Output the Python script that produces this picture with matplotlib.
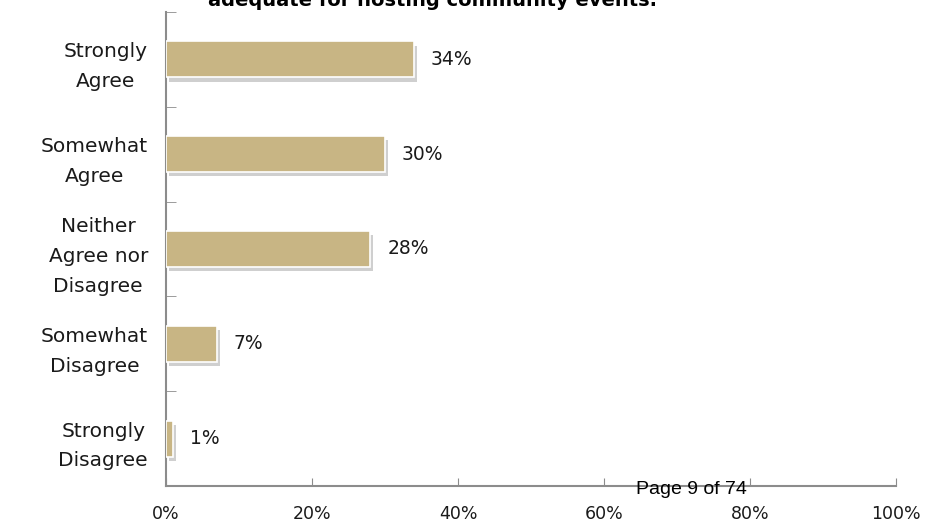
import matplotlib
matplotlib.use("Agg")
import matplotlib.pyplot as plt
import matplotlib.patheffects as pe

categories = ["Strongly\nAgree", "Somewhat\nAgree", "Neither\nAgree nor\nDisagree",
              "Somewhat\nDisagree", "Strongly\nDisagree"]
values = [34, 30, 28, 7, 1]
xticks = [0, 20, 40, 60, 80, 100]
xtick_labels = ["0%", "20%", "40%", "60%", "80%", "100%"]
title = "adequate for hosting community events."
footer = "Page 9 of 74"

font = ["DejaVu Sans"]
bar_color = "#C8B584"
axis_color = "#8C8C8C"

fig = plt.figure(figsize=(9.25, 5.23), dpi=100)
ax = fig.add_axes([166 / 925, 1 - 486 / 523, 730 / 925, 474 / 523])

n = len(categories)
ypos = list(range(n))
bars = ax.barh(ypos, values, height=0.38, color=bar_color, edgecolor="white",
               linewidth=1.2, zorder=3)
for b in bars:
    b.set_path_effects([pe.SimplePatchShadow(offset=(2, -3), shadow_rgbFace="#b0b0b0", alpha=0.6),
                        pe.Normal()])

for y, v in zip(ypos, values):
    ax.text(v + 2.3, y, f"{v}%", va="center", ha="left", fontsize=13.5,
            family=font, color="#1a1a1a")

ax.set_ylim(n - 0.5, -0.5)
ax.set_xlim(0, 100)
ax.set_xticks(xticks)
ax.set_xticklabels(xtick_labels, family=font, fontsize=12.5, color="#1a1a1a")
ax.set_yticks(ypos)
ax.set_yticklabels(categories, family=font, fontsize=14.5, linespacing=1.72,
                   multialignment="center", color="#1a1a1a")
ax.set_yticks([i - 0.5 for i in range(n + 1)], minor=True)

ax.tick_params(axis="y", which="major", length=0, pad=13)
ax.tick_params(axis="y", which="minor", length=7, color=axis_color, direction="in")
ax.tick_params(axis="x", length=6, color=axis_color, direction="in", pad=14)

for s in ["top", "right"]:
    ax.spines[s].set_visible(False)
for s in ["left", "bottom"]:
    ax.spines[s].set_color(axis_color)
    ax.spines[s].set_linewidth(1.5)

fig.text(432 / 925, 1 - 6 / 523, title, ha="center", va="baseline",
         fontsize=14, fontweight="bold", family=font)
fig.text(691 / 925, 1 - 490 / 523, footer, ha="center", va="center",
         fontsize=14, family=["Liberation Sans", "DejaVu Sans"])

fig.savefig("out.png", dpi=100)
